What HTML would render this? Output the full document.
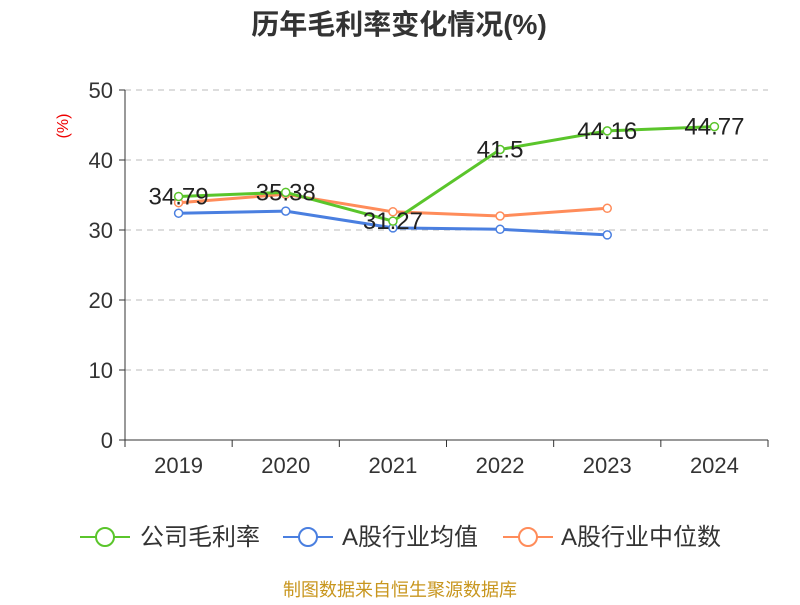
<!DOCTYPE html>
<html><head><meta charset="utf-8"><style>
body{margin:0;background:#fff;font-family:"Liberation Sans","Noto Sans CJK SC",sans-serif}
</style></head><body>
<svg width="800" height="600" font-family="Liberation Sans, Noto Sans CJK SC, sans-serif">
<text x="399" y="34" text-anchor="middle" font-size="28" font-weight="bold" fill="#333">历年毛利率变化情况(%)</text>
<text transform="translate(68,126) rotate(-90)" text-anchor="middle" font-size="16" fill="#e00">(%)</text>
<g id="grid"></g><g id="axes"></g><g id="series"></g>
<g>
<g><line x1="80" y1="537" x2="130" y2="537" stroke="#5ac52b" stroke-width="2"/><circle cx="105" cy="537" r="9" fill="#fff" stroke="#5ac52b" stroke-width="2"/><text x="140" y="545" font-size="24" fill="#333">公司毛利率</text></g>
<g><line x1="283" y1="537" x2="333" y2="537" stroke="#4a7fe0" stroke-width="2"/><circle cx="308" cy="537" r="9" fill="#fff" stroke="#4a7fe0" stroke-width="2"/><text x="342" y="545" font-size="24" fill="#333">A股行业均值</text></g>
<g><line x1="503" y1="537" x2="553" y2="537" stroke="#ff8c5a" stroke-width="2"/><circle cx="528" cy="537" r="9" fill="#fff" stroke="#ff8c5a" stroke-width="2"/><text x="561" y="545" font-size="24" fill="#333">A股行业中位数</text></g>
</g>
<text x="400" y="596" text-anchor="middle" font-size="18" fill="#c8961e">制图数据来自恒生聚源数据库</text>
</svg>
<script>
const categories=["2019","2020","2021","2022","2023","2024"];
const grossMargin=[34.79,35.38,31.27,41.5,44.16,44.77];
const industryMean=[32.4,32.7,30.3,30.1,29.3,null];
const industryMedian=[33.9,35.1,32.6,32.0,33.1,null];
const yTicks=[0,10,20,30,40,50];
const NS="http://www.w3.org/2000/svg";
const x0=125,x1=768,y0=440,y1=90,ymax=50;
const bw=(x1-x0)/categories.length;
const xs=i=>x0+bw*(i+0.5);
const ys=v=>y0-(v/ymax)*(y0-y1);
function mk(t,a,p){const e=document.createElementNS(NS,t);for(const k in a)e.setAttribute(k,a[k]);p.appendChild(e);return e;}
const grid=document.getElementById('grid'),axes=document.getElementById('axes'),ser=document.getElementById('series');
yTicks.forEach(v=>{
 if(v>0){const l=mk('line',{x1:x0,x2:x1,y1:ys(v),y2:ys(v),stroke:'#bbb','stroke-dasharray':'6,5'},grid);
 
 }
 const tk=mk('line',{x1:x0-6,x2:x0,y1:ys(v),y2:ys(v),stroke:'#333'},axes);
 
 
 const t=mk('text',{x:x0-12,y:ys(v)+8,'text-anchor':'end','font-size':22,fill:'#333'},axes);t.textContent=v;
 
 
});
const ya=mk('line',{x1:x0,x2:x0,y1:y1,y2:y0,stroke:'#333'},axes);


const xa=mk('line',{x1:x0,x2:x1,y1:y0,y2:y0,stroke:'#333'},axes);


for(let i=0;i<=categories.length;i++){const t=mk('line',{x1:x0+bw*i,x2:x0+bw*i,y1:y0,y2:y0+7,stroke:'#333'},axes);
 
 }
categories.forEach((c,i)=>{const t=mk('text',{x:xs(i),y:y0+33,'text-anchor':'middle','font-size':22,fill:'#333'},axes);t.textContent=c;
 
 });
function draw(data,color,name){
 const pts=data.map((v,i)=>v==null?null:[xs(i),ys(v)]).filter(p=>p);
 const pl=mk('polyline',{points:pts.map(p=>p.join(',')).join(' '),fill:'none',stroke:color,'stroke-width':3},ser);
 
 
 data.forEach((v,i)=>{if(v==null)return;
  const c=mk('circle',{cx:xs(i),cy:ys(v),r:4,fill:'#fff',stroke:color,'stroke-width':1.5},ser);
  
  
 });
}
draw(industryMedian,'#ff8c5a','industry-median');
draw(industryMean,'#4a7fe0','industry-mean');
draw(grossMargin,'#5ac52b','gross-margin');
grossMargin.forEach((v,i)=>{const t=mk('text',{x:xs(i),y:ys(v)+8,'text-anchor':'middle','font-size':24,fill:'#222'},ser);t.textContent=v;
 
 });
</script>
</body></html>
